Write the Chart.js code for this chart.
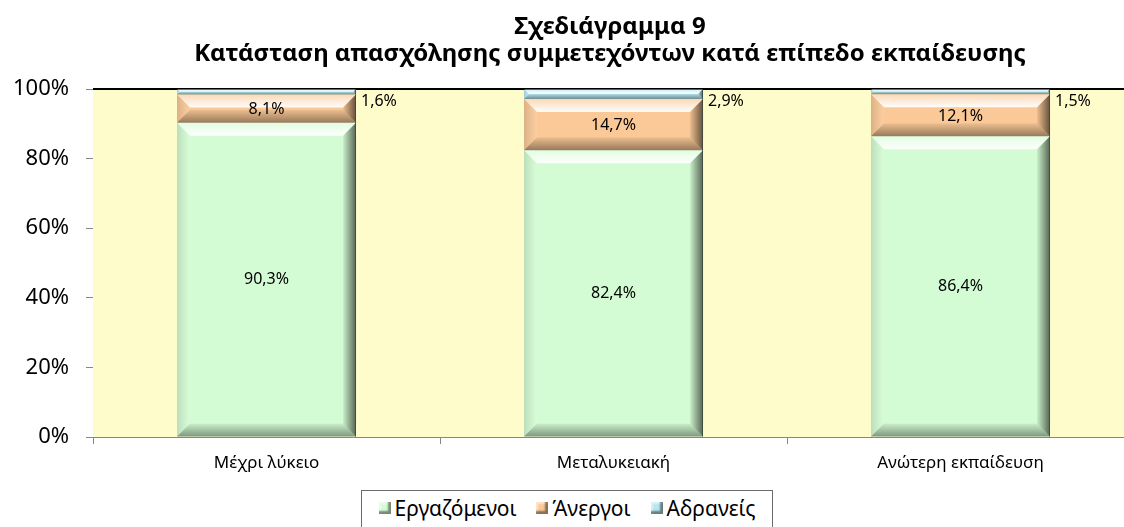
<!DOCTYPE html>
<html>
<head>
<meta charset="utf-8">
<script src="https://cdn.jsdelivr.net/npm/chart.js@4.4.0/dist/chart.umd.min.js"></script>
<style>
  html, body { margin: 0; padding: 0; background: #fff; overflow: hidden; }
  #wrap { position: relative; width: 1124px; height: 527px; overflow: hidden; }
  #c { position: absolute; left: 0; top: 0; }
  #title {
    position: absolute; left: 0; top: 11px; width: 1220px; text-align: center;
    font: bold 24px "Noto Sans", sans-serif; line-height: 27px; color: #000;
  }
  #legend {
    position: absolute; left: 361px; top: 490px; width: 412px; height: 40px;
    box-sizing: border-box; border: 1px solid #6b6b6b; background: #fff;
    display: flex; align-items: center; justify-content: center; gap: 20px;
    font: 21px "Noto Sans", sans-serif; color: #000; padding-bottom: 4px;
  }
  .item { display: flex; align-items: center; }
  .mark { width: 12px; height: 12px; margin-right: 4px; box-sizing: border-box;
    box-shadow: inset -3px -3px 2px rgba(0,0,0,0.45), inset 2px 2px 2px rgba(255,255,255,0.5); }
</style>
</head>
<body>
<div id="wrap">
  <canvas id="c" width="1140" height="527"></canvas>
  <div id="title">Σχεδιάγραμμα 9<br>Κατάσταση απασχόλησης συμμετεχόντων κατά επίπεδο εκπαίδευσης</div>
  <div id="legend"></div>
</div>
<script>
(function() {
  "use strict";

  const categories = ["Μέχρι λύκειο", "Μεταλυκειακή", "Ανώτερη εκπαίδευση"];
  const seriesNames = ["Εργαζόμενοι", "Άνεργοι", "Αδρανείς"];
  const employed = [90.3, 82.4, 86.4];
  const unemployed = [8.1, 14.7, 12.1];
  const inactive = [1.6, 2.9, 1.5];
  const yTicks = [0, 20, 40, 60, 80, 100];

  const colors = ["rgb(212, 252, 212)", "rgb(250, 201, 151)", "rgb(182, 231, 240)"];
  const plotBg = "rgb(255, 252, 204)";
  const axisGrey = "#868686";

  const fmt = (v) => v.toFixed(1).replace(".", ",") + "%";

  // legend in html
  const legend = document.getElementById("legend");
  seriesNames.forEach((name, i) => {
    const item = document.createElement("div");
    item.className = "item";
    const mark = document.createElement("span");
    mark.className = "mark";
    mark.style.background = colors[i];
    item.appendChild(mark);
    item.appendChild(document.createTextNode(name));
    legend.appendChild(item);
  });

  // yellow plot area + black top line
  const plotAreaPlugin = {
    id: "plotArea",
    beforeDatasetsDraw(chart) {
      const { ctx, chartArea: a } = chart;
      ctx.save();
      ctx.fillStyle = plotBg;
      ctx.fillRect(a.left, a.top, a.right - a.left, a.bottom - a.top);
      ctx.restore();
    },
    afterDatasetsDraw(chart) {
      const { ctx, chartArea: a } = chart;
      ctx.save();
      ctx.strokeStyle = "#000";
      ctx.lineWidth = 2;
      ctx.beginPath();
      ctx.moveTo(a.left, a.top);
      ctx.lineTo(a.right + 10, a.top);
      ctx.stroke();
      ctx.restore();
    },
  };

  function grad(ctx, x0, y0, x1, y1, c0, c1) {
    const g = ctx.createLinearGradient(x0, y0, x1, y1);
    g.addColorStop(0, c0);
    g.addColorStop(1, c1);
    return g;
  }

  function poly(ctx, pts, fill) {
    ctx.beginPath();
    ctx.moveTo(pts[0][0], pts[0][1]);
    for (let k = 1; k < pts.length; k++) ctx.lineTo(pts[k][0], pts[k][1]);
    ctx.closePath();
    ctx.fillStyle = fill;
    ctx.fill();
  }

  // bevel look of the excel bars + value labels
  const bevelPlugin = {
    id: "bevel",
    afterDatasetsDraw(chart) {
      const ctx = chart.ctx;
      ctx.save();
      chart.data.datasets.forEach((ds, i) => {
        const meta = chart.getDatasetMeta(i);
        meta.data.forEach((bar, j) => {
          const p = bar.getProps(["x", "y", "base", "width"], true);
          const x0 = p.x - p.width / 2;
          const x1 = p.x + p.width / 2;
          const y0 = Math.min(p.y, p.base);
          const y1 = Math.max(p.y, p.base);
          const b = Math.min(13, (y1 - y0) / 2);
          if (b <= 0) return;
          poly(ctx, [[x0, y0], [x1, y0], [x1 - b, y0 + b], [x0 + b, y0 + b]],
            grad(ctx, 0, y0, 0, y0 + b, "rgba(255,255,255,0.3)", "rgba(255,255,255,0.95)"));
          poly(ctx, [[x0, y1], [x1, y1], [x1 - b, y1 - b], [x0 + b, y1 - b]],
            grad(ctx, 0, y1 - b, 0, y1, "rgba(0,0,0,0.05)", "rgba(0,0,0,0.4)"));
          poly(ctx, [[x1, y0], [x1, y1], [x1 - b, y1 - b], [x1 - b, y0 + b]],
            grad(ctx, x1 - b, 0, x1, 0, "rgba(0,0,0,0.05)", "rgba(0,0,0,0.6)"));
          poly(ctx, [[x0, y0], [x0, y1], [x0 + b, y1 - b], [x0 + b, y0 + b]],
            grad(ctx, x0, 0, x0 + b, 0, "rgba(0,0,0,0.12)", "rgba(255,255,255,0.1)"));
          ctx.strokeStyle = "rgba(60,70,60,0.8)";
          ctx.lineWidth = 1;
          ctx.beginPath();
          ctx.moveTo(x1 - 0.5, y0);
          ctx.lineTo(x1 - 0.5, y1);
          ctx.stroke();

          // value label
          ctx.fillStyle = "#000";
          ctx.font = "16px 'Noto Sans', sans-serif";
          ctx.textBaseline = "middle";
          const v = ds.data[j];
          if (i < 2) {
            ctx.textAlign = "center";
            ctx.fillText(fmt(v), p.x, (y0 + y1) / 2 + (i === 0 ? 0 : 1));
          } else {
            ctx.textAlign = "left";
            ctx.fillText(fmt(v), x1 + 5, y0 + 12);
          }
        });
      });
      ctx.restore();
    },
  };

  new Chart(document.getElementById("c").getContext("2d"), {
    type: "bar",
    data: {
      labels: categories,
      datasets: [
        { label: seriesNames[0], data: employed, backgroundColor: colors[0] },
        { label: seriesNames[1], data: unemployed, backgroundColor: colors[1] },
        { label: seriesNames[2], data: inactive, backgroundColor: colors[2] },
      ],
    },
    options: {
      responsive: false,
      animation: false,
      devicePixelRatio: 1,
      layout: { padding: { top: 89, right: 6, bottom: 50, left: 0 } },
      datasets: { bar: { categoryPercentage: 1, barPercentage: 0.516 } },
      plugins: {
        legend: { display: false },
        title: { display: false },
        tooltip: { enabled: false },
      },
      scales: {
        x: {
          stacked: true,
          afterFit: (s) => { s.height = 40; },
          border: { color: axisGrey, width: 1 },
          grid: { offset: true, drawOnChartArea: false, drawTicks: true, tickLength: 7, color: axisGrey },
          ticks: { color: "#000", font: { family: "Noto Sans", size: 17 }, padding: 9 },
        },
        y: {
          stacked: true,
          min: 0,
          max: 100,
          afterFit: (s) => { s.width = 93; },
          afterBuildTicks: (s) => { s.ticks = yTicks.map((v) => ({ value: v })); },
          border: { color: axisGrey, width: 1 },
          grid: { drawOnChartArea: false, drawTicks: true, tickLength: 7, color: axisGrey },
          ticks: {
            color: "#000",
            font: { family: "Noto Sans", size: 22 },
            padding: 17,
            callback: (v) => v + "%",
          },
        },
      },
    },
    plugins: [plotAreaPlugin, bevelPlugin],
  });
})();
</script>
</body>
</html>
